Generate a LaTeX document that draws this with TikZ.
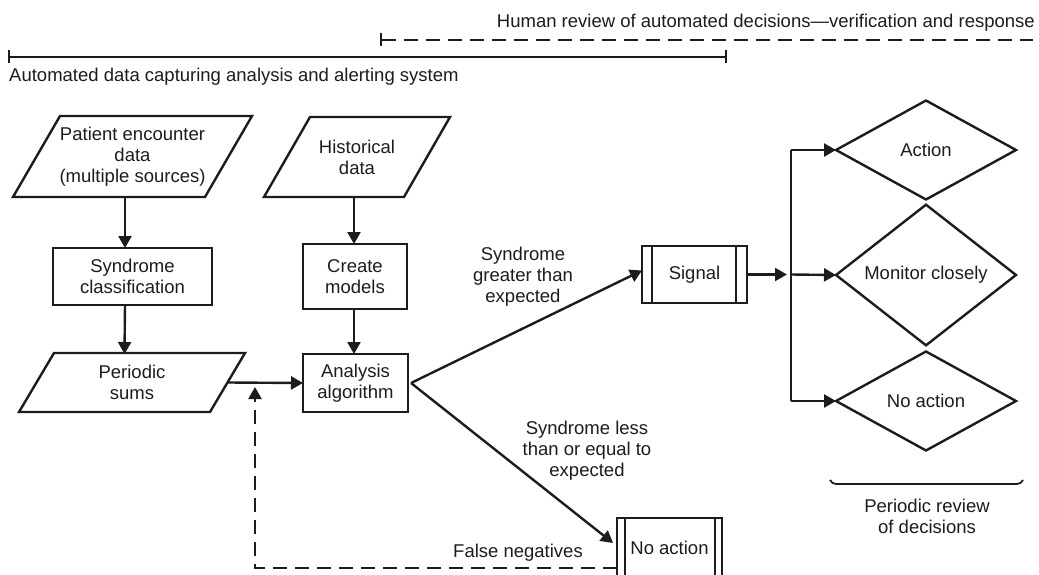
\documentclass[tikz,border=0pt]{standalone}
\usepackage{fontspec}
\setmainfont{Liberation Sans}
\usetikzlibrary{arrows.meta,shapes.geometric,calc}
\definecolor{ink}{RGB}{30,27,28}
\begin{document}
\begin{tikzpicture}[x=1pt,y=-1pt,
  line width=2.4pt, color=ink,
  every node/.style={font=\fontsize{18.5}{21}\selectfont, align=center, text=ink},
  box/.style={draw=ink, rectangle, inner sep=0pt, outer sep=0pt},
  pbox/.style={rectangle, inner sep=0pt, outer sep=0pt},
  dia/.style={draw=ink, diamond, inner sep=0pt, outer sep=0pt, minimum width=180pt, minimum height=99pt},
  arr/.style={draw=ink, -{Triangle[length=12pt,width=13pt]}},
  dsh/.style={dash pattern=on 14pt off 8pt},
  lbl/.style={inner sep=0pt},
  spanbar/.style={{Bar[width=13pt,line width=2.4pt]}-{Bar[width=13pt,line width=2.4pt]}},
  spanbarL/.style={{Bar[width=13pt,line width=2.4pt]}-}
]
\useasboundingbox (0,0) rectangle (1039,575);
\clip (0,0) rectangle (1039,575);

% top spans
\coordinate (h1) at (380,40);
\coordinate (h2) at (1033,40);
\coordinate (a1) at (8,57);
\coordinate (a2) at (727,57);
\draw[spanbarL, dsh] (h1) -- (h2);
\draw[spanbar] (a1) -- (a2);
\node[lbl, anchor=east] (htxt) at (1036,23) {Human review of automated decisions—verification and response};
\node[lbl, anchor=west] (atxt) at (8,77) {Automated data capturing analysis and alerting system};

% parallelograms
\node[pbox, minimum width=239pt, minimum height=81pt] (pe) at (132.5,156.5) {Patient encounter\\data\\(multiple sources)};
\draw ([xshift=47pt]pe.north west) -- (pe.north east) -- ([xshift=-47pt]pe.south east) -- (pe.south west) -- cycle;

\node[pbox, minimum width=186pt, minimum height=80pt] (hd) at (357,157) {Historical\\data};
\draw ([xshift=46pt]hd.north west) -- (hd.north east) -- ([xshift=-46pt]hd.south east) -- (hd.south west) -- cycle;

\node[pbox, minimum width=226pt, minimum height=59pt] (ps) at (132,382.5) {Periodic\\sums};
\draw ([xshift=35pt]ps.north west) -- (ps.north east) -- ([xshift=-35pt]ps.south east) -- (ps.south west) -- cycle;

% rectangles
\node[box, minimum width=159pt, minimum height=57pt] (syn) at (132.5,276.5) {Syndrome\\classification};
\node[box, minimum width=104pt, minimum height=65pt] (cm) at (355,276.5) {Create\\models};
\node[box, minimum width=105pt, minimum height=58pt] (an) at (355.5,383) {Analysis\\algorithm};

% double-bar boxes
\node[box, minimum width=105pt, minimum height=57pt] (sig) at (694.5,274.5) {Signal};
\draw ([xshift=10pt]sig.north west) -- ([xshift=10pt]sig.south west);
\draw ([xshift=-11pt]sig.north east) -- ([xshift=-11pt]sig.south east);

\node[box, minimum width=105pt, minimum height=60pt] (na) at (669.5,548) {No action};
\draw ([xshift=8pt]na.north west) -- ([xshift=8pt]na.south west);
\draw ([xshift=-7pt]na.north east) -- ([xshift=-7pt]na.south east);

% diamonds
\node[dia] (act) at (926,150) {Action};
\node[dia] (mon) at (926,275) {Monitor closely};
\node[dia] (noa) at (926,401) {No action};

% vertical flow
\draw[arr] ([xshift=-7.5pt]pe.south) -- ([xshift=-7.5pt]syn.north);
\draw[arr] ([xshift=-7.5pt]syn.south) -- ([xshift=-7.5pt,yshift=-1pt]ps.north);
\draw[arr] ([xshift=-3pt]hd.south) -- ([xshift=-1pt]cm.north);
\draw[arr] ([xshift=-1pt]cm.south) -- ([xshift=-1.5pt]an.north);
\draw[arr] ([xshift=-17pt]ps.east) -- (an.west);

% decisions from analysis
\draw[arr] ([xshift=3pt]an.east) -- ([yshift=4pt]sig.west);
\draw[arr] ([xshift=3pt]an.east) -- ([xshift=-4pt,yshift=5pt]na.west);
\node[lbl] (lgt) at (523,277) {Syndrome\\greater than\\expected};
\node[lbl] (llt) at (587,451) {Syndrome less\\than or equal to\\expected};

% false negatives feedback
\coordinate (fn1) at ([yshift=-20pt]na.west);
\coordinate (fn2) at (255,568);
\coordinate (fn3) at (255,387);
\draw[dsh, -{Triangle[length=12pt,width=13pt]}] (fn1) -- (fn2) -- (fn3);
\node[lbl] (lfn) at (518,553) {False negatives};

% signal branching
\coordinate (br) at (791,274.5);
\coordinate (b1) at (791,150);
\coordinate (b3) at (791,401);
\draw[arr] (sig.east) -- ([xshift=-4pt]br);
\draw (b1) -- (b3);
\draw[arr] (b1) -- (act.west);
\draw[arr] (br) -- (mon.west);
\draw[arr] (b3) -- (noa.west);

% periodic review brace
\coordinate (r1) at (830,480);
\coordinate (r2) at (1023,480);
\draw[line width=1.8pt] (r1) to[out=-60,in=180] ([xshift=6pt,yshift=-4pt]r1) -- ([xshift=-6pt,yshift=-4pt]r2) to[out=0,in=240] (r2);
\node[lbl] (lpr) at (927,516.5) {Periodic review\\of decisions};
\end{tikzpicture}
\end{document}
